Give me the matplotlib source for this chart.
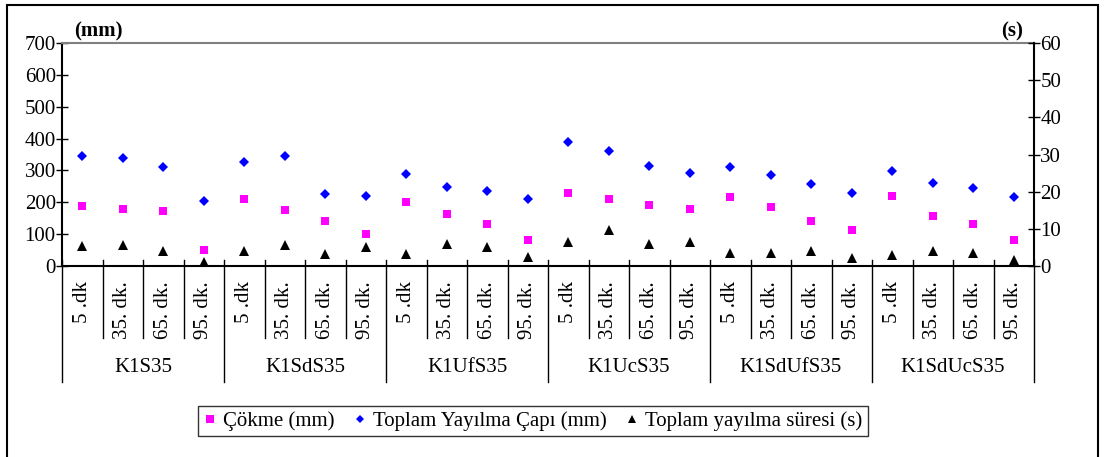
import numpy as np
import matplotlib
matplotlib.use("Agg")
import matplotlib.pyplot as plt
from matplotlib.patches import Rectangle

plt.rcParams['font.family'] = ['Liberation Serif', 'DejaVu Serif']

gruplar = ["K1S35", "K1SdS35", "K1UfS35", "K1UcS35", "K1SdUfS35", "K1SdUcS35"]
sureler = ["5 .dk", "35. dk.", "65. dk.", "95. dk."]

# Çökme (mm)
cokme = [189, 180, 172, 51, 210, 176, 141, 101,
         200, 162, 132, 82, 230, 210, 190, 180,
         216, 185, 142, 112, 220, 156, 132, 82]
# Toplam Yayılma Çapı (mm)
cap = [345, 340, 311, 205, 325, 345, 226, 220,
       290, 249, 235, 209, 389, 361, 315, 292,
       310, 286, 256, 229, 298, 260, 245, 216]
# Toplam yayılma süresi (s)
sure = [5.5, 5.6, 4.0, 1.0, 4.1, 5.6, 3.2, 5.0,
        3.2, 5.9, 5.2, 2.4, 6.5, 9.7, 6.0, 6.4,
        3.4, 3.5, 4.1, 2.1, 3.0, 4.0, 3.5, 1.7]

W, H = 1105, 457
fs = 15
fig = plt.figure(figsize=(W/100, H/100), dpi=100)

x0, x1, y0, y1 = 62, 1034, 43, 266
ax = fig.add_axes([x0/W, 1-y1/H, (x1-x0)/W, (y1-y0)/H])
ax2 = ax.twinx()

n = len(cokme)
x = np.arange(n)

ax.plot(x, cokme, 's', color='#ff00ff', ms=6.3, mew=0, label='Çökme (mm)', clip_on=False)
ax.plot(x, cap, 'D', color='#0000ff', ms=4.8, mew=0, label='Toplam Yayılma Çapı (mm)', clip_on=False)
ax2.plot(x, sure, '^', color='black', ms=7, mew=0, label='Toplam yayılma süresi (s)', clip_on=False)

ax.set_xlim(-0.5, n-0.5)
ax.set_ylim(0, 700)
ax2.set_ylim(0, 60)
ax.set_yticks(range(0, 701, 100))
ax2.set_yticks(range(0, 61, 10))

for a in (ax, ax2):
    a.tick_params(axis='y', labelsize=fs, direction='inout', length=9, width=1, pad=0)
    a.set_xticks([])
    for s in a.spines.values():
        s.set_visible(False)
ax.spines['left'].set_visible(True)
ax.spines['left'].set_linewidth(1.5)
ax.spines['bottom'].set_visible(True)
ax.spines['bottom'].set_linewidth(1.5)
ax.spines['top'].set_visible(True)
ax.spines['top'].set_color('#808080')
ax.spines['top'].set_linewidth(1.5)
ax2.spines['right'].set_visible(True)
ax2.spines['right'].set_linewidth(1.5)

# kategori eksen çizgileri ve etiketleri
ph = y1 - y0
tr = ax.get_xaxis_transform()
for i in range(n + 1):
    alt = 382 if i % 4 == 0 else 338
    ax.plot([i-0.5, i-0.5], [6/ph, (y1-alt)/ph], color='black', lw=1,
            transform=tr, clip_on=False)
for i in range(n):
    ax.text(i, (y1-281)/ph, sureler[i % 4], rotation=90, ha='center', va='top',
            fontsize=fs, transform=tr)
for g, ad in enumerate(gruplar):
    ax.text(4*g + 1.5, (y1-368)/ph, ad, ha='center', va='center',
            fontsize=fs, transform=tr)

fig.text(74/W, 1-31/H, '(mm)', fontsize=fs, fontweight='bold', ha='left', va='center')
fig.text(1023/W, 1-31/H, '(s)', fontsize=fs, fontweight='bold', ha='right', va='center')

h1, l1 = ax.get_legend_handles_labels()
h2, l2 = ax2.get_legend_handles_labels()
leg = fig.legend(h1+h2, l1+l2, loc='center', bbox_to_anchor=(533/W, 1-421/H),
                 ncol=3, fontsize=fs, frameon=True, fancybox=False,
                 handlelength=0.6, handletextpad=0.35, columnspacing=0.9,
                 borderpad=0.25, borderaxespad=0, markerscale=0.9)
leg.get_frame().set_edgecolor('black')
leg.get_frame().set_linewidth(1)

fig.patches.append(Rectangle((7/W, -0.05), (1098-7)/W, 1-5/H+0.05,
                             transform=fig.transFigure, fill=False,
                             edgecolor='black', lw=1.5))

fig.savefig('out.png', dpi=100)
